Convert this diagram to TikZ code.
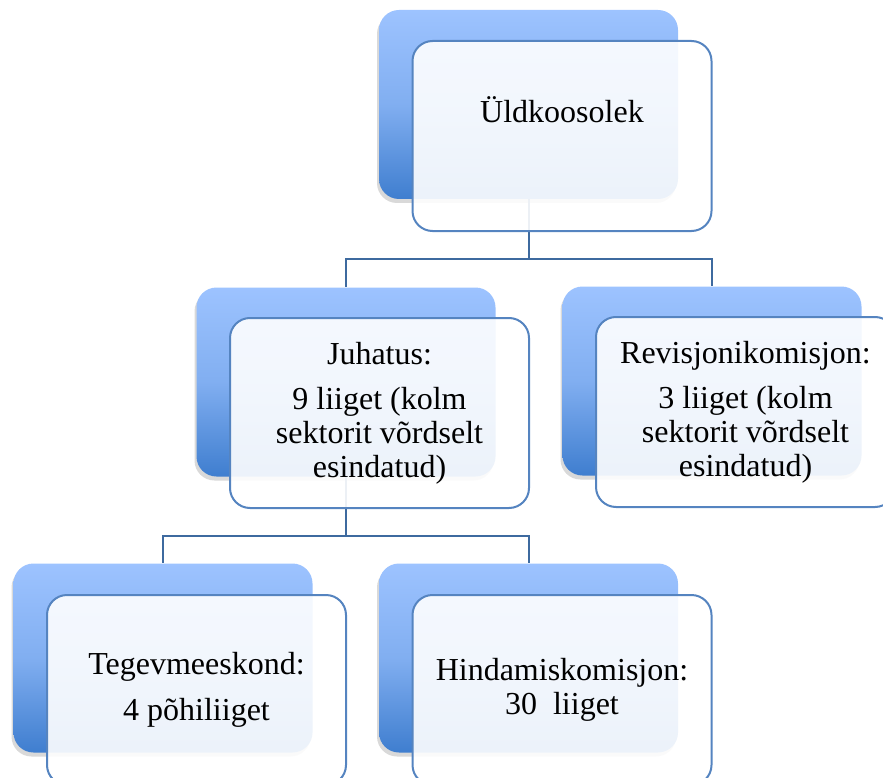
\documentclass[tikz,border=0pt]{standalone}
\usepackage{fontspec}
\setmainfont{Liberation Serif}
\usetikzlibrary{shadows,positioning}

\definecolor{backtop}{HTML}{9DC3FF}
\definecolor{backbot}{HTML}{3F7ECF}
\definecolor{frameblue}{HTML}{5584C0}
\definecolor{linkblue}{HTML}{3E6A9F}

\begin{document}
\begin{tikzpicture}[x=1pt, y=-1pt,
    backbox/.style={rectangle, rounded corners=20pt, minimum width=299pt, minimum height=189pt, top color=backtop, bottom color=backbot, middle color=backtop!70!backbot, drop shadow={shadow xshift=-2pt, shadow yshift=-4pt, opacity=0.3}},
    frontbox/.style={rectangle, draw=frameblue, line width=2pt, fill=white, fill opacity=0.9, text opacity=1, rounded corners=20pt, minimum width=299pt, minimum height=190pt, align=center, font=\fontsize{32}{34}\selectfont},
    boxtext/.style={font=\fontsize{32}{34}\selectfont},
    link/.style={draw=linkblue, line width=2pt}
]
    \useasboundingbox (0,0) rectangle (883,778);
    \clip (0,0) rectangle (883,778);

    % Back boxes
    \node[backbox] (uldback) at (528.5,104.5) {};
    \node[backbox] (juhback) at (346,382) {};
    \node[backbox] (revback) at (712,381) {};
    \node[backbox] (tegback) at (163,658) {};
    \node[backbox] (hinback) at (528.5,658) {};

    % Links
    \draw[link] (uldback.south) -- ++(0,60) -| (juhback.north);
    \draw[link] (uldback.south) -- ++(0,60) -| (revback.north);
    \draw[link] (juhback.south) -- ++(0,59) -| (tegback.north);
    \draw[link] (juhback.south) -- ++(0,59) -| (hinback.north);

    % Front boxes
    \node[frontbox] (uld) at ([xshift=33.5pt, yshift=-31.5pt]uldback.center) {};
    \node[boxtext] (uldtext) at ([yshift=26pt]uld.center) {Üldkoosolek};
    \node[frontbox] (juh) at ([xshift=33.5pt, yshift=-31pt]juhback.center) {Juhatus:\\[11pt] 9 liiget (kolm\\ sektorit võrdselt\\ esindatud)};
    \node[frontbox] (rev) at ([xshift=33.5pt, yshift=-31pt]revback.center) {Revisjonikomisjon:\\[11pt] 3 liiget (kolm\\ sektorit võrdselt\\ esindatud)};
    \node[frontbox] (teg) at ([xshift=33.5pt, yshift=-32pt]tegback.center) {Tegevmeeskond:\\[12pt] 4 põhiliiget};
    \node[frontbox] (hin) at ([xshift=33.5pt, yshift=-32pt]hinback.center) {Hindamiskomisjon:\\ 30\ \ liiget};
\end{tikzpicture}
\end{document}
